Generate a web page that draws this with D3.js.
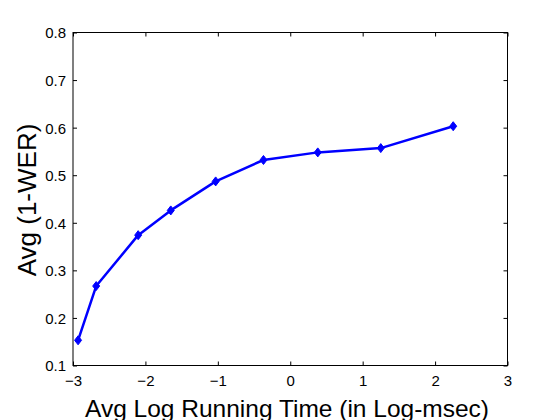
<!DOCTYPE html>
<html lang="en">
<head>
<meta charset="UTF-8">
<title>d3.</title>
<script src="https://cdn.jsdelivr.net/npm/d3@7/dist/d3.min.js"></script>
<style>
  body { margin: 0; background: #fff; }
  text { font-family: "Liberation Sans", Arial, sans-serif; fill: #000; }
</style>
</head>
<body>
<script>
	// data
	var logTime = [-2.93, -2.68, -2.10, -1.65, -1.03, -0.37, 0.38, 1.25, 2.25];
	var avgAcc = [0.153, 0.267, 0.374, 0.426, 0.487, 0.532, 0.548, 0.557, 0.603];
	var xTicks = [-3, -2, -1, 0, 1, 2, 3];
	var yTicks = [0.1, 0.2, 0.3, 0.4, 0.5, 0.6, 0.7, 0.8];

	var width = 560, height = 420;
	var box = {left: 73, top: 32.5, right: 507.5, bottom: 365.5};

	var svg = d3.select("body").append("svg").attr("width", width).attr("height", height);

	var x = d3.scaleLinear().domain([-3, 3]).range([box.left, box.right]);
	var y = d3.scaleLinear().domain([0.1, 0.8]).range([box.bottom, box.top]);

	// frame
	svg.append("rect")
		.attr("x", box.left).attr("y", box.top)
		.attr("width", box.right - box.left).attr("height", box.bottom - box.top)
		.attr("fill", "none").attr("stroke", "#000").attr("stroke-width", 1);

	// axes, ticks inward (matlab style)
	var xAxis = svg.append("g").attr("transform", "translate(0," + box.bottom + ")")
		.call(d3.axisBottom(x).tickValues(xTicks).tickSize(-4).tickPadding(10).tickFormat(d3.format("d")));
	var xTop = svg.append("g").attr("transform", "translate(0," + box.top + ")")
		.call(d3.axisTop(x).tickValues(xTicks).tickSize(-4).tickFormat(""));
	var yAxis = svg.append("g").attr("transform", "translate(" + box.left + ",0)")
		.call(d3.axisLeft(y).tickValues(yTicks).tickSize(-4).tickPadding(7).tickFormat(d3.format(".1f")));
	var yRight = svg.append("g").attr("transform", "translate(" + box.right + ",0)")
		.call(d3.axisRight(y).tickValues(yTicks).tickSize(-4).tickFormat(""));

	[xAxis, xTop, yAxis, yRight].forEach(function (a) {
		a.attr("font-size", 15).attr("font-family", null);
		a.select(".domain").remove();
		a.selectAll("line").attr("stroke", "#000");
		a.selectAll("text").attr("fill", "#000");
	});
	yAxis.selectAll("text").attr("dy", "0.36em");

	// line
	var pts = logTime.map(function (d, i) { return [d, avgAcc[i]]; });
	var line = d3.line().x(function (d) { return x(d[0]); }).y(function (d) { return y(d[1]); });
	svg.append("path").datum(pts)
		.attr("d", line)
		.attr("fill", "none")
		.attr("stroke", "#0000ff")
		.attr("stroke-width", 2.5)
		.attr("stroke-linejoin", "round");

	// diamond markers
	svg.selectAll(".mk").data(pts).enter().append("path")
		.attr("class", "mk")
		.attr("transform", function (d) { return "translate(" + x(d[0]) + "," + y(d[1]) + ")"; })
		.attr("d", "M0,-4.5L3.5,0L0,4.5L-3.5,0Z")
		.attr("fill", "#0000ff")
		.attr("stroke", "#0000ff")
		.attr("stroke-width", 1);

	// labels
	svg.append("text")
		.attr("x", 287).attr("y", 416.5)
		.attr("text-anchor", "middle").attr("font-size", 24.5)
		.text("Avg Log Running Time (in Log-msec)");
	svg.append("text")
		.attr("transform", "translate(35.5,200) rotate(-90)")
		.attr("text-anchor", "middle").attr("font-size", 26)
		.text("Avg (1-WER)");
</script>
</body>
</html>
